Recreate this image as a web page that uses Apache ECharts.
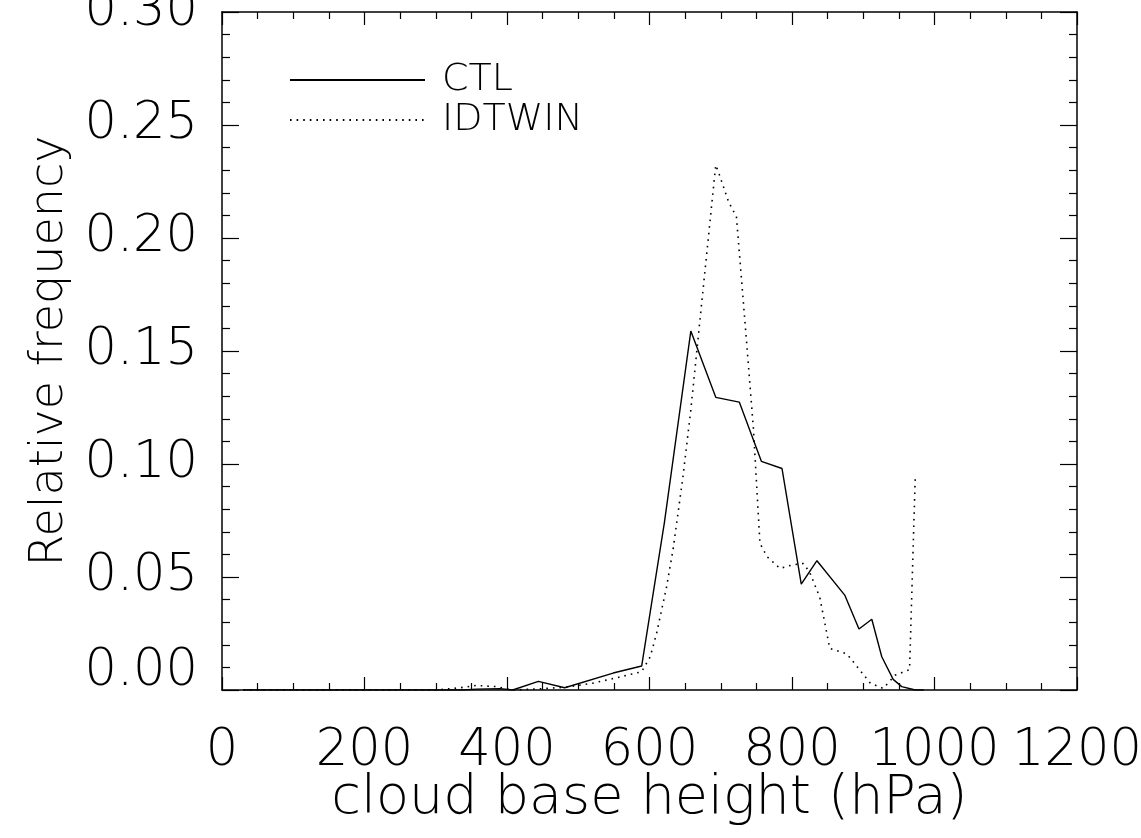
<!DOCTYPE html>
<html>
<head>
<meta charset="utf-8">
<script src="https://cdn.jsdelivr.net/npm/echarts@6/dist/echarts.min.js"></script>
<style>
  html, body { margin: 0; padding: 0; background: #fff; }
  #main { width: 1141px; height: 838px; }
</style>
</head>
<body>
<div id="main"></div>
<script>
// cloud base height (hPa) vs relative frequency
var ctlX = [30, 339, 357, 390, 408, 444, 481, 549, 589, 621, 658, 693, 726, 757, 786, 813, 835, 874, 894, 912, 926, 942, 954, 973, 985]
var ctlY = [0, 0, 0.0004, 0.0006, 0, 0.0038, 0.001, 0.0075, 0.0106, 0.0743, 0.1588, 0.1295, 0.1274, 0.1012, 0.098, 0.0468, 0.0572, 0.042, 0.027, 0.0313, 0.0147, 0.0047, 0.0015, 0, 0]

var idtX = [30, 300, 334, 357, 385, 409, 444, 481, 520, 555, 589, 601, 610, 624, 633, 647, 658, 693, 697, 711, 722, 736, 746, 755, 765, 783, 800, 816, 825, 839, 853, 877, 910, 928, 945, 965, 973]
var idtY = [0, 0, 0.001, 0.002, 0.0015, 0, 0.0005, 0.0012, 0.003, 0.0055, 0.0081, 0.0147, 0.0251, 0.0457, 0.062, 0.0944, 0.124, 0.2323, 0.229, 0.216, 0.2094, 0.155, 0.115, 0.0649, 0.059, 0.0538, 0.0553, 0.056, 0.052, 0.041, 0.0184, 0.016, 0.003, 0.0007, 0.0066, 0.009, 0.0947]

var xTicks = [0, 200, 400, 600, 800, 1000, 1200]
var yTicks = [0, 0.05, 0.10, 0.15, 0.20, 0.25, 0.30]

var seriesNames = ['CTL', 'IDTWIN']

var FONT = 'DejaVu Sans'
var THIN = 200
var INK = '#000'

function pairs(xs, ys) {
  return xs.map(function (x, i) { return [x, ys[i]] })
}

var chart = echarts.init(document.getElementById('main'))

// box frame: onZero off so the top/right copies stay on their own side
var lineAxis = { show: true, onZero: false, lineStyle: { color: INK, width: 1.5 } }
var xTick = { show: true, inside: true, length: 13, lineStyle: { color: INK, width: 1.2 } }
var xMinor = { show: true, splitNumber: 4, length: 7, lineStyle: { color: INK, width: 1.2 } }
var yTick = { show: true, inside: true, length: 17, lineStyle: { color: INK, width: 1.2 } }
var yMinor = { show: true, splitNumber: 5, length: 8, lineStyle: { color: INK, width: 1.2 } }

var labelFont = { fontFamily: FONT, fontWeight: THIN, fontSize: 51, color: INK }

var option = {
  animation: false,
  backgroundColor: '#fff',
  grid: { left: 222, top: 12, right: 64, bottom: 148, outerBoundsMode: 'none', containLabel: false },
  legend: {
    orient: 'vertical',
    left: 284,
    top: 55,
    itemWidth: 135,
    itemHeight: 14,
    itemGap: 0,
    itemStyle: { opacity: 0 },
    formatter: function (n) { return ' ' + n },
    textStyle: { fontFamily: FONT, fontWeight: THIN, fontSize: 38, lineHeight: 40, color: INK },
    data: seriesNames
  },
  xAxis: [
    {
      type: 'value',
      position: 'bottom',
      min: xTicks[0],
      max: xTicks[xTicks.length - 1],
      interval: 200,
      name: 'cloud base height (hPa)',
      nameLocation: 'middle',
      nameGap: 82,
      nameMoveOverlap: false,
      nameTextStyle: { fontFamily: FONT, fontWeight: THIN, fontSize: 54, color: INK },
      axisLine: lineAxis,
      axisTick: xTick,
      minorTick: xMinor,
      axisLabel: Object.assign({
        margin: 36,
        showMinLabel: true, showMaxLabel: true, hideOverlap: false,
        formatter: function (v) { return String(v) }
      }, labelFont),
      splitLine: { show: false }
    },
    {
      type: 'value',
      position: 'top',
      min: xTicks[0],
      max: xTicks[xTicks.length - 1],
      interval: 200,
      axisLine: lineAxis,
      axisTick: xTick,
      minorTick: xMinor,
      axisLabel: { show: false },
      splitLine: { show: false }
    }
  ],
  yAxis: [
    {
      type: 'value',
      position: 'left',
      min: yTicks[0],
      max: yTicks[yTicks.length - 1],
      interval: 0.05,
      name: 'Relative frequency',
      nameLocation: 'middle',
      nameGap: 149,
      nameMoveOverlap: false,
      nameTextStyle: { fontFamily: FONT, fontWeight: THIN, fontSize: 46, color: INK },
      axisLine: lineAxis,
      axisTick: yTick,
      minorTick: yMinor,
      axisLabel: Object.assign({
        margin: 24,
        formatter: function (v) {
          var s = v.toFixed(2)
          // the bottom label sits above the axis line, as in the picture
          if (v === yTicks[0]) return '{n|' + s + '}\n{lo|.}'
          return '{n|' + s + '}'
        },
        rich: {
          n: Object.assign({ lineHeight: 60 }, labelFont),
          lo: { fontSize: 8, lineHeight: 36, color: 'rgba(0,0,0,0)' }
        }
      }, labelFont),
      splitLine: { show: false }
    },
    {
      type: 'value',
      position: 'right',
      min: yTicks[0],
      max: yTicks[yTicks.length - 1],
      interval: 0.05,
      axisLine: lineAxis,
      axisTick: yTick,
      minorTick: yMinor,
      axisLabel: { show: false },
      splitLine: { show: false }
    }
  ],
  series: [
    {
      name: seriesNames[0],
      type: 'line',
      data: pairs(ctlX, ctlY),
      symbol: 'none',
      itemStyle: { color: INK },
      lineStyle: { color: INK, width: 1.4, type: 'solid' }
    },
    {
      name: seriesNames[1],
      type: 'line',
      data: pairs(idtX, idtY),
      symbol: 'none',
      itemStyle: { color: INK },
      lineStyle: { color: INK, width: 1.6, type: [1.6, 5] }
    }
  ]
}
chart.setOption(option)
</script>
</body>
</html>
